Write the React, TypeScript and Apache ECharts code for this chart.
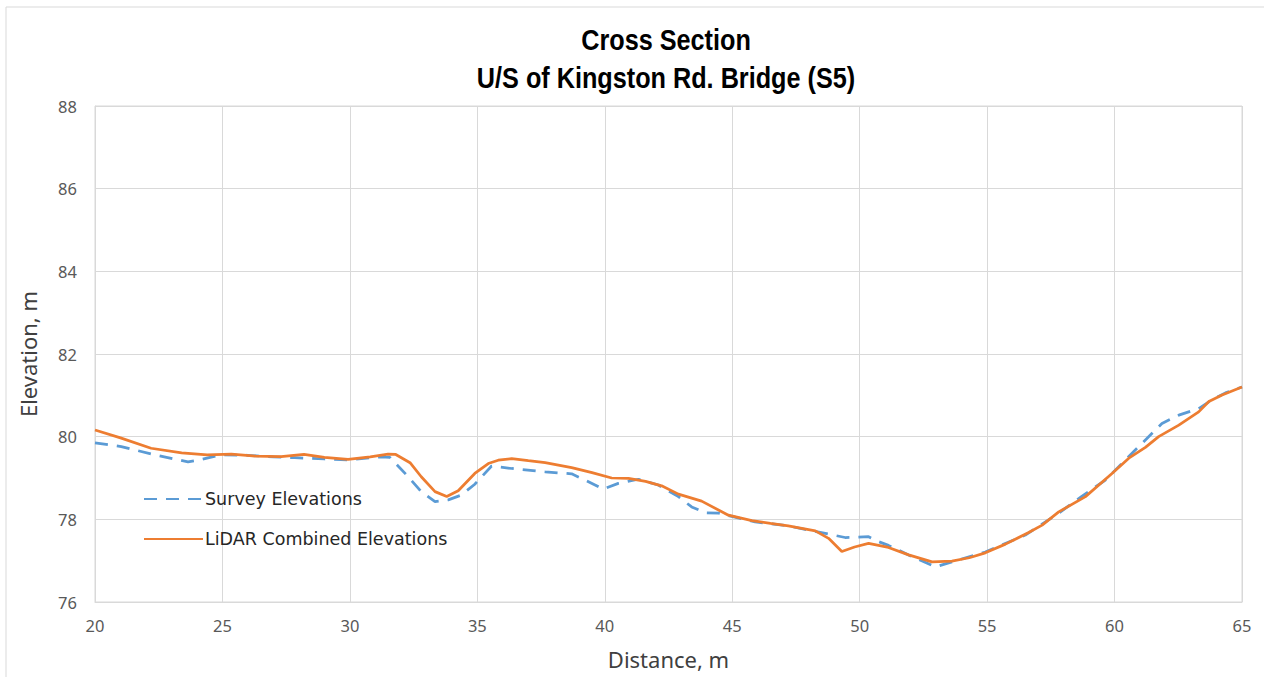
import React, { useEffect, useRef } from "react";
import * as echarts from "echarts";

const titleLines = ["Cross Section", "U/S of Kingston Rd. Bridge (S5)"];
const xAxisName = "Distance, m";
const yAxisName = "Elevation, m";
const seriesNames = ["Survey Elevations", "LiDAR Combined Elevations"];

const surveyX = [20, 21.03, 22.34, 23.65, 24.17, 24.96, 26.0, 27.0, 27.84, 29.0, 29.9, 31.24, 31.57, 32.29, 32.8, 33.34, 33.86, 34.38, 34.9, 35.56, 36.35, 37.66, 38.7, 39.36, 39.94, 40.53, 41.32, 42.1, 42.89, 43.41, 43.94, 44.46, 44.98, 45.9, 47.2, 48.65, 49.43, 50.35, 50.74, 51.13, 52.05, 52.97, 53.62, 54.93, 56.5, 57.81, 58.7, 59.64, 60.43, 61.21, 61.86, 62.52, 63.3, 63.82, 64.35, 65];
const surveyY = [79.85, 79.76, 79.56, 79.39, 79.45, 79.56, 79.55, 79.51, 79.49, 79.46, 79.44, 79.51, 79.5, 79.03, 78.67, 78.43, 78.47, 78.59, 78.85, 79.29, 79.23, 79.15, 79.1, 78.91, 78.73, 78.87, 78.97, 78.83, 78.55, 78.3, 78.16, 78.15, 78.07, 77.94, 77.84, 77.66, 77.56, 77.58, 77.46, 77.37, 77.1, 76.85, 76.97, 77.21, 77.62, 78.15, 78.55, 78.95, 79.44, 79.92, 80.32, 80.52, 80.68, 80.89, 81.06, 81.2];

const lidarX = [20, 21, 22.2, 23.4, 24.4, 25.35, 26.3, 27.3, 28.2, 29.0, 29.93, 30.8, 31.5, 31.8, 32.36, 32.8, 33.34, 33.8, 34.25, 34.9, 35.43, 35.82, 36.35, 37.0, 37.66, 38.7, 39.5, 40.27, 40.93, 41.6, 42.23, 42.89, 43.8, 44.85, 45.77, 46.5, 47.2, 48.26, 48.78, 49.3, 49.8, 50.35, 51.13, 51.92, 52.84, 53.62, 54.3, 54.93, 55.72, 56.63, 57.16, 57.81, 58.86, 59.9, 60.56, 61.21, 61.73, 62.52, 63.3, 63.7, 64.22, 65];
const lidarY = [80.16, 79.97, 79.72, 79.61, 79.56, 79.58, 79.53, 79.52, 79.57, 79.5, 79.45, 79.51, 79.58, 79.57, 79.37, 79.03, 78.67, 78.55, 78.69, 79.11, 79.35, 79.43, 79.47, 79.42, 79.37, 79.25, 79.13, 79.0, 78.99, 78.92, 78.81, 78.61, 78.44, 78.1, 77.97, 77.9, 77.84, 77.72, 77.54, 77.22, 77.33, 77.42, 77.32, 77.14, 76.97, 76.99, 77.07, 77.19, 77.4, 77.68, 77.86, 78.18, 78.55, 79.11, 79.48, 79.74, 80.0, 80.28, 80.6, 80.85, 81.01, 81.2];

const xMin = 20, xMax = 65, xStep = 5;
const yMin = 76, yMax = 88, yStep = 2;

const SANS = '"Liberation Sans", Arial, sans-serif';
const BODY = '"Noto Sans", "Open Sans", sans-serif';
const LEG = '"DejaVu Sans", sans-serif';

export default function App() {
  const ref = useRef<HTMLDivElement>(null);
  useEffect(() => {
    if (!ref.current) return;
    const chart = echarts.init(ref.current, null, { renderer: "svg" });
    const pair = (xs: number[], ys: number[]) => xs.map((x, i) => [x, ys[i]]);
    const titleText = (text: string, y: number) => ({
      type: "text",
      x: 666,
      y,
      scaleX: 0.87,
      style: {
        text,
        fontFamily: SANS,
        fontWeight: "bold",
        fontSize: 29,
        fill: "#000000",
        textAlign: "center",
        textVerticalAlign: "middle",
      },
    });
    chart.setOption({
      animation: false,
      backgroundColor: "#ffffff",
      graphic: [
        {
          type: "rect",
          shape: { x: 6, y: 7, width: 1400, height: 800 },
          style: { fill: "none", stroke: "#d9d9d9", lineWidth: 1 },
          silent: true,
          z: -1,
        },
        titleText(titleLines[0], 40),
        titleText(titleLines[1], 78),
      ],
      grid: {
        left: 95,
        right: 22,
        top: 106,
        bottom: 75,
        show: true,
        borderColor: "#d9d9d9",
        borderWidth: 1,
        backgroundColor: "transparent",
      },
      legend: {
        orient: "vertical",
        left: 138,
        top: 485,
        itemWidth: 59,
        itemHeight: 16,
        itemGap: 22,
        itemStyle: { opacity: 0 },
        textStyle: { fontFamily: LEG, fontSize: 17.5, color: "#262626", padding: [0, 0, 0, -3] },
        data: seriesNames,
      },
      xAxis: {
        type: "value",
        min: xMin,
        max: xMax,
        interval: xStep,
        name: xAxisName,
        nameLocation: "middle",
        nameGap: 46,
        nameTextStyle: { fontFamily: BODY, fontSize: 22, color: "#404040" },
        axisLine: { show: true, lineStyle: { color: "#d9d9d9" } },
        axisTick: { show: false },
        axisLabel: { fontFamily: BODY, fontSize: 16.5, color: "#595959", margin: 15 },
        splitLine: { show: true, lineStyle: { color: "#d9d9d9", width: 1 } },
      },
      yAxis: {
        type: "value",
        min: yMin,
        max: yMax,
        interval: yStep,
        name: yAxisName,
        nameLocation: "middle",
        nameGap: 56,
        nameRotate: 90,
        nameTextStyle: { fontFamily: BODY, fontSize: 22, color: "#404040" },
        axisLine: { show: true, lineStyle: { color: "#d9d9d9" } },
        axisTick: { show: false },
        axisLabel: { fontFamily: BODY, fontSize: 16.5, color: "#595959", margin: 18 },
        splitLine: { show: true, lineStyle: { color: "#d9d9d9", width: 1 } },
      },
      series: [
        {
          name: seriesNames[0],
          type: "line",
          symbol: "none",
          data: pair(surveyX, surveyY),
          lineStyle: { color: "#5B9BD5", width: 2.75, type: [13, 9] },
          itemStyle: { color: "#5B9BD5" },
          z: 2,
        },
        {
          name: seriesNames[1],
          type: "line",
          symbol: "none",
          data: pair(lidarX, lidarY),
          lineStyle: { color: "#ED7D31", width: 2.75 },
          itemStyle: { color: "#ED7D31" },
          z: 3,
        },
      ],
    });
    return () => chart.dispose();
  }, []);
  return (
    <div
      ref={ref}
      style={{ position: "fixed", left: 0, top: 0, width: 1264, height: 677, background: "#fff" }}
    />
  );
}
